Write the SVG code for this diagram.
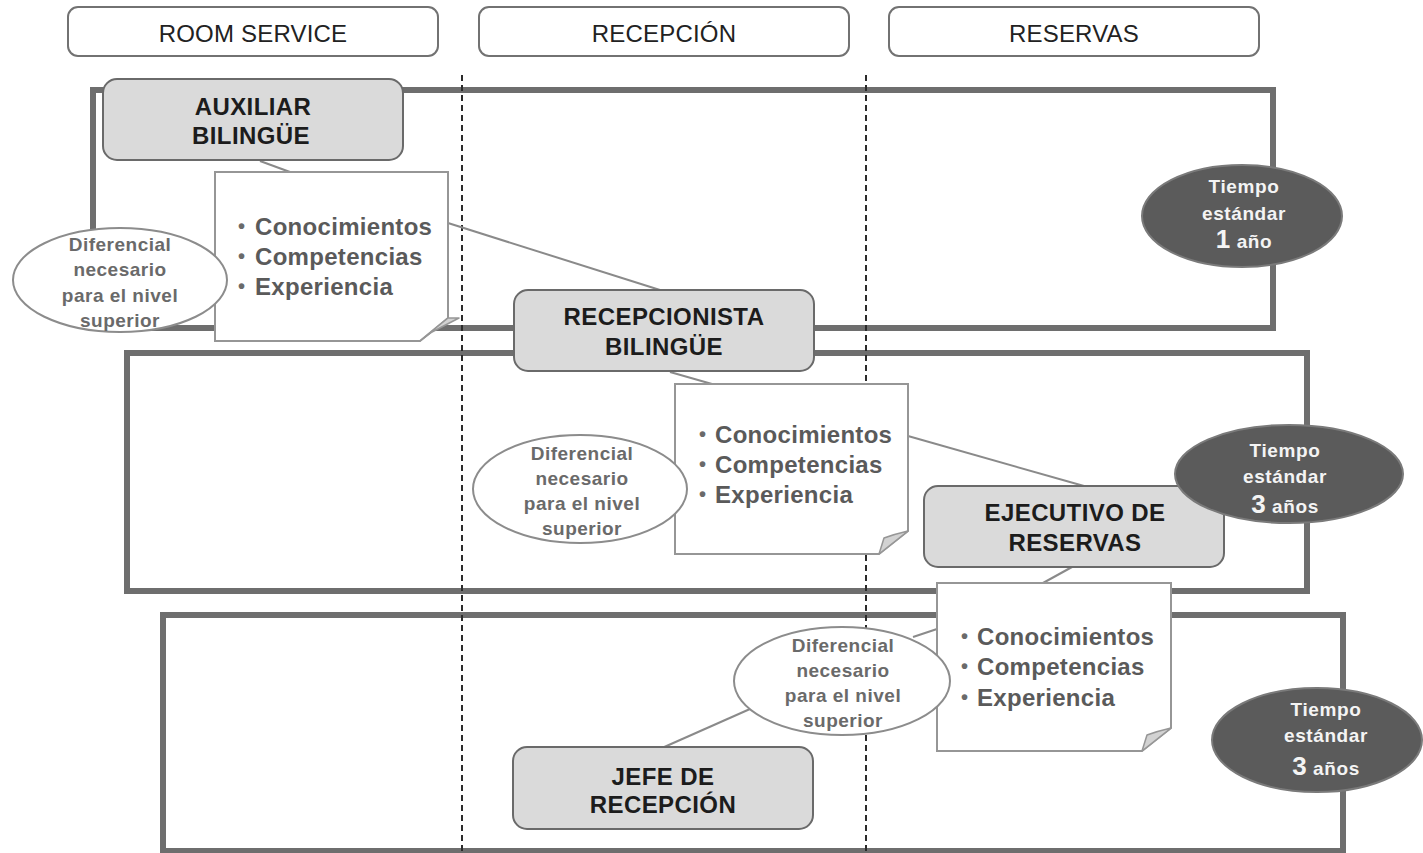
<svg xmlns="http://www.w3.org/2000/svg" width="1423" height="853" viewBox="0 0 1423 853">
  <style>
    .frame { fill: none; stroke: #6e6e6e; stroke-width: 6; }
    .lane { stroke: #2b2b2b; stroke-width: 2; stroke-dasharray: 6 4; }
    .hdr rect { fill: #ffffff; stroke: #727272; stroke-width: 2; }
    .hdr text { font-family: "Liberation Sans", Arial, sans-serif; font-size: 24px; fill: #222222; text-anchor: middle; letter-spacing: 0.2px; }
    .node rect { fill: #dadada; stroke: #6a6a6a; stroke-width: 2; }
    .node text { font-family: "Liberation Sans", Arial, sans-serif; font-weight: bold; font-size: 24px; fill: #1c1c1c; text-anchor: middle; letter-spacing: 0.4px; }
    .note .sheet { fill: #ffffff; stroke: #969696; stroke-width: 2; }
    .note .flap { fill: #d2d2d2; stroke: #969696; stroke-width: 1.5; stroke-linejoin: round; }
    .note text { font-family: "Liberation Sans", Arial, sans-serif; font-weight: bold; font-size: 24px; fill: #5a5a5a; letter-spacing: 0.3px; }
    .note .dot { font-size: 20px; fill: #6a6a6a; }
    .diff ellipse { fill: #ffffff; stroke: #8c8c8c; stroke-width: 2; }
    .diff text { font-family: "Liberation Sans", Arial, sans-serif; font-weight: bold; font-size: 19px; fill: #6a6a6a; text-anchor: middle; letter-spacing: 0.5px; }
    .time ellipse { fill: #5b5b5b; stroke: #7a7a7a; stroke-width: 2; }
    .time text { font-family: "Liberation Sans", Arial, sans-serif; font-weight: bold; font-size: 19px; fill: #f4f4f4; text-anchor: middle; letter-spacing: 0.6px; }
    .time .big { font-size: 26px; }
    .link { stroke: #8a8a8a; stroke-width: 2; fill: none; }
  </style>

  <!-- level frames -->
  <g id="frames">
    <rect class="frame" x="93" y="90" width="1180" height="238"/>
    <rect class="frame" x="127" y="353" width="1180" height="238"/>
    <rect class="frame" x="163" y="615" width="1180" height="236"/>
  </g>

  <!-- area separators -->
  <g id="lanes">
    <line class="lane" x1="462" y1="75" x2="462" y2="853"/>
    <line class="lane" x1="866" y1="75" x2="866" y2="853"/>
  </g>

  <!-- area headers -->
  <g id="hdr-room" class="hdr">
    <rect x="68" y="7" width="370" height="49" rx="10"/>
    <text x="253" y="42">ROOM SERVICE</text>
  </g>
  <g id="hdr-recepcion" class="hdr">
    <rect x="479" y="7" width="370" height="49" rx="10"/>
    <text x="664" y="42">RECEPCIÓN</text>
  </g>
  <g id="hdr-reservas" class="hdr">
    <rect x="889" y="7" width="370" height="49" rx="10"/>
    <text x="1074" y="42">RESERVAS</text>
  </g>

  <!-- connectors -->
  <g id="connectors">
    <line class="link" x1="260" y1="161" x2="290" y2="172"/>
    <line class="link" x1="448" y1="223" x2="660" y2="290"/>
    <line class="link" x1="670" y1="372" x2="712" y2="384"/>
    <line class="link" x1="908" y1="436" x2="1084" y2="486"/>
    <line class="link" x1="1072" y1="567" x2="1043" y2="583"/>
    <line class="link" x1="937" y1="629" x2="913" y2="637"/>
    <line class="link" x1="750" y1="709" x2="662" y2="748"/>
  </g>

  <!-- requirement notes -->
  <g id="note-1" class="note">
    <path class="sheet" d="M215,172 H448 V318 L420,341 H215 Z"/>
    <path class="flap" d="M448,318 L459,318 L432,332 L420,341 Z"/>
    <text class="dot" x="238" y="233">•</text>
    <text class="dot" x="238" y="263">•</text>
    <text class="dot" x="238" y="293">•</text>
    <text x="255" y="235">Conocimientos</text>
    <text x="255" y="265">Competencias</text>
    <text x="255" y="295">Experiencia</text>
  </g>
  <g id="note-2" class="note">
    <path class="sheet" d="M675,384 H908 V531 L879,554 H675 Z"/>
    <path class="flap" d="M908,531 Q895,534 884,538 L879,554 Z"/>
    <text class="dot" x="699" y="441">•</text>
    <text class="dot" x="699" y="471">•</text>
    <text class="dot" x="699" y="501">•</text>
    <text x="715" y="443">Conocimientos</text>
    <text x="715" y="473">Competencias</text>
    <text x="715" y="503">Experiencia</text>
  </g>
  <g id="note-3" class="note">
    <path class="sheet" d="M937,583 H1171 V728 L1142,751 H937 Z"/>
    <path class="flap" d="M1171,728 Q1158,731 1147,735 L1142,751 Z"/>
    <text class="dot" x="961" y="643">•</text>
    <text class="dot" x="961" y="673">•</text>
    <text class="dot" x="961" y="704">•</text>
    <text x="977" y="645">Conocimientos</text>
    <text x="977" y="675">Competencias</text>
    <text x="977" y="706">Experiencia</text>
  </g>

  <!-- gap bubbles -->
  <g id="diff-1" class="diff">
    <ellipse cx="120" cy="280" rx="107" ry="52"/>
    <text x="120" y="251">Diferencial</text>
    <text x="120" y="276">necesario</text>
    <text x="120" y="302">para el nivel</text>
    <text x="120" y="327">superior</text>
  </g>
  <g id="diff-2" class="diff">
    <ellipse cx="580" cy="489" rx="107" ry="54"/>
    <text x="582" y="460">Diferencial</text>
    <text x="582" y="485">necesario</text>
    <text x="582" y="510">para el nivel</text>
    <text x="582" y="535">superior</text>
  </g>
  <g id="diff-3" class="diff">
    <ellipse cx="842" cy="681" rx="108" ry="54"/>
    <text x="843" y="652">Diferencial</text>
    <text x="843" y="677">necesario</text>
    <text x="843" y="702">para el nivel</text>
    <text x="843" y="727">superior</text>
  </g>

  <!-- positions -->
  <g id="node-auxiliar" class="node">
    <rect x="103" y="79" width="300" height="81" rx="14"/>
    <text x="253" y="115">AUXILIAR</text>
    <text x="251" y="144">BILINGÜE</text>
  </g>
  <g id="node-recepcionista" class="node">
    <rect x="514" y="290" width="300" height="81" rx="14"/>
    <text x="664" y="325">RECEPCIONISTA</text>
    <text x="664" y="355">BILINGÜE</text>
  </g>
  <g id="node-ejecutivo" class="node">
    <rect x="924" y="486" width="300" height="81" rx="14"/>
    <text x="1075" y="521">EJECUTIVO DE</text>
    <text x="1075" y="551">RESERVAS</text>
  </g>
  <g id="node-jefe" class="node">
    <rect x="513" y="747" width="300" height="82" rx="14"/>
    <text x="663" y="785">JEFE DE</text>
    <text x="663" y="813">RECEPCIÓN</text>
  </g>

  <!-- standard time badges -->
  <g id="time-1" class="time">
    <ellipse cx="1242" cy="216" rx="100" ry="51"/>
    <text x="1244" y="193">Tiempo</text>
    <text x="1244" y="220">estándar</text>
    <text x="1244" y="248"><tspan class="big">1</tspan> año</text>
  </g>
  <g id="time-2" class="time">
    <ellipse cx="1289" cy="474" rx="114" ry="49"/>
    <text x="1285" y="457">Tiempo</text>
    <text x="1285" y="483">estándar</text>
    <text x="1285" y="513"><tspan class="big">3</tspan> años</text>
  </g>
  <g id="time-3" class="time">
    <ellipse cx="1317" cy="740" rx="105" ry="52"/>
    <text x="1326" y="716">Tiempo</text>
    <text x="1326" y="742">estándar</text>
    <text x="1326" y="775"><tspan class="big">3</tspan> años</text>
  </g>
</svg>
